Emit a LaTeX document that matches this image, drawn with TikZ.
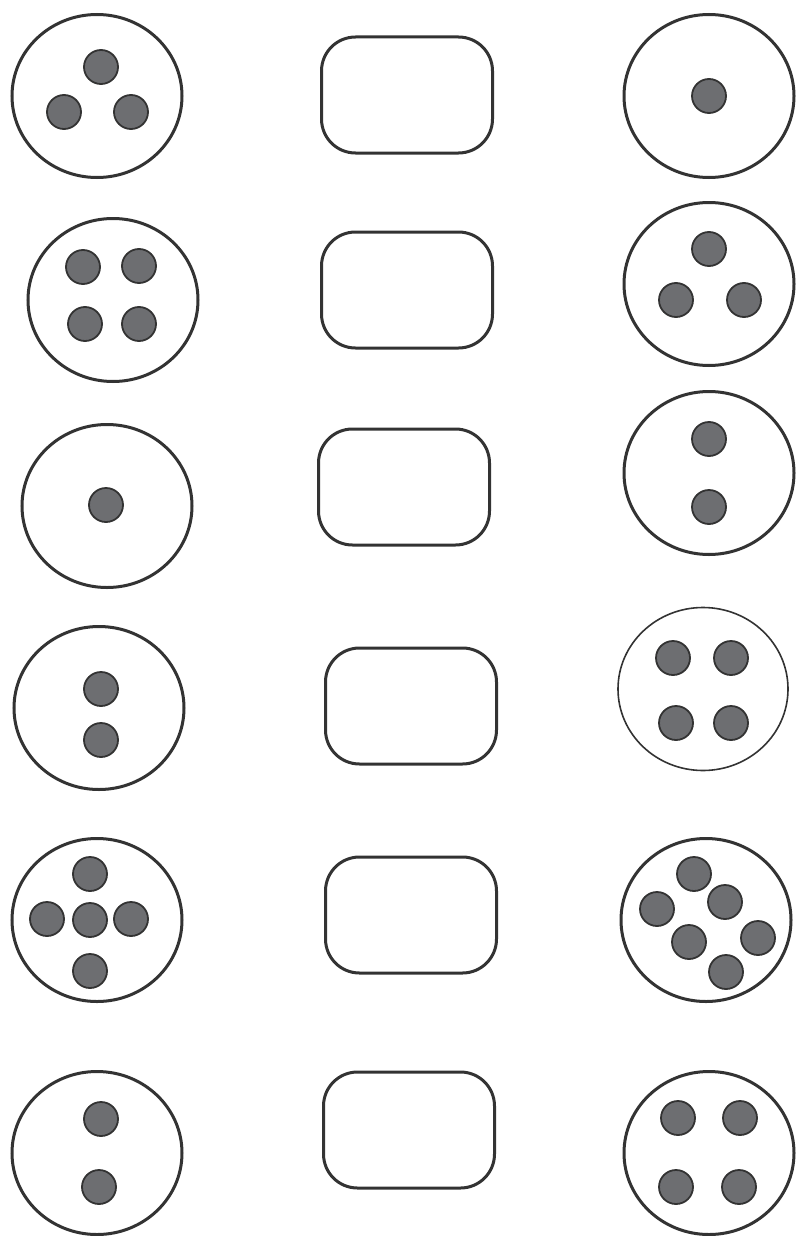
\documentclass[tikz,border=0pt]{standalone}
\usetikzlibrary{shapes.geometric}
\definecolor{edge}{HTML}{333333}
\definecolor{dotfill}{HTML}{6D6E71}
\tikzset{
  plate/.style={ellipse, draw=edge, line width=3pt, inner sep=0pt, minimum width=170pt, minimum height=163pt},
  thinplate/.style={plate, line width=1.6pt},
  dot/.style={circle, draw=edge, fill=dotfill, line width=1.8pt, inner sep=0pt, minimum size=34pt},
  slot/.style={draw=edge, line width=3pt, rounded corners=34pt, inner sep=0pt, minimum width=171pt, minimum height=116pt}
}
\begin{document}
\begin{tikzpicture}[x=1pt,y=-1pt]
\useasboundingbox (0,0) rectangle (796,1236);
% left column
\node[plate] (L1) at (97,96) {};
\node[dot] (L1a) at (101,67) {};
\node[dot] (L1b) at (64,112) {};
\node[dot] (L1c) at (131,112) {};

\node[plate] (L2) at (113,300) {};
\node[dot] (L2a) at (83,267) {};
\node[dot] (L2b) at (139,266) {};
\node[dot] (L2c) at (85,324) {};
\node[dot] (L2d) at (139,324) {};

\node[plate] (L3) at (107,506) {};
\node[dot] (L3a) at (106,505) {};

\node[plate] (L4) at (99,708) {};
\node[dot] (L4a) at (101,689) {};
\node[dot] (L4b) at (101,740) {};

\node[plate] (L5) at (97,920) {};
\node[dot] (L5a) at (90,874) {};
\node[dot] (L5b) at (47,919) {};
\node[dot] (L5c) at (90,920) {};
\node[dot] (L5d) at (131,919) {};
\node[dot] (L5e) at (90,971) {};

\node[plate] (L6) at (97,1153) {};
\node[dot] (L6a) at (101,1119) {};
\node[dot] (L6b) at (99,1187) {};

% middle column
\node[slot] (M1) at (407,95) {};
\node[slot] (M2) at (407,290) {};
\node[slot] (M3) at (404,487) {};
\node[slot] (M4) at (411,706) {};
\node[slot] (M5) at (411,915) {};
\node[slot] (M6) at (409,1130) {};

% right column
\node[plate] (R1) at (709,96) {};
\node[dot] (R1a) at (709,96) {};

\node[plate] (R2) at (709,284) {};
\node[dot] (R2a) at (709,249) {};
\node[dot] (R2b) at (676,300) {};
\node[dot] (R2c) at (744,300) {};

\node[plate] (R3) at (709,473) {};
\node[dot] (R3a) at (709,439) {};
\node[dot] (R3b) at (709,507) {};

\node[thinplate] (R4) at (703,689) {};
\node[dot] (R4a) at (673,658) {};
\node[dot] (R4b) at (731,658) {};
\node[dot] (R4c) at (676,723) {};
\node[dot] (R4d) at (731,723) {};

\node[plate] (R5) at (706,920) {};
\node[dot] (R5a) at (694,874) {};
\node[dot] (R5b) at (657,909) {};
\node[dot] (R5c) at (725,902) {};
\node[dot] (R5d) at (689,942) {};
\node[dot] (R5e) at (758,938) {};
\node[dot] (R5f) at (726,972) {};

\node[plate] (R6) at (709,1153) {};
\node[dot] (R6a) at (678,1118) {};
\node[dot] (R6b) at (740,1118) {};
\node[dot] (R6c) at (676,1187) {};
\node[dot] (R6d) at (739,1187) {};
\end{tikzpicture}
\end{document}
